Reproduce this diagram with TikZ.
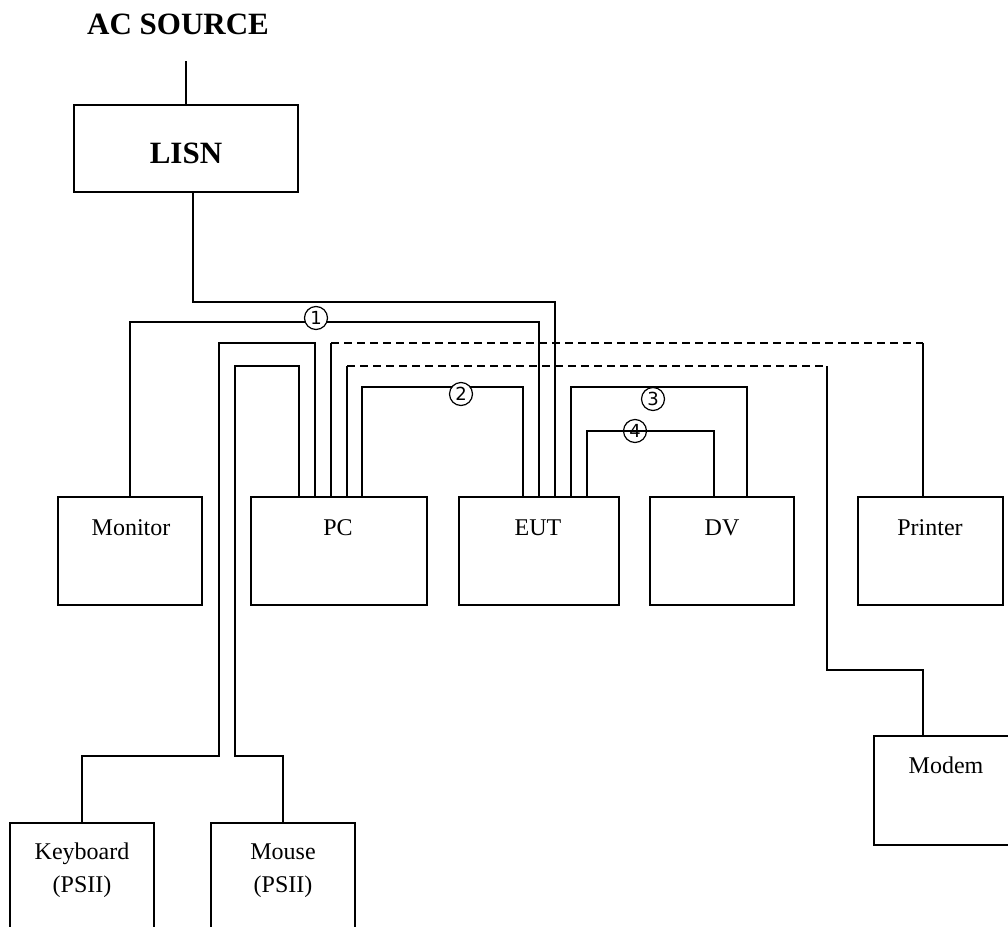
\documentclass[tikz,border=0pt]{standalone}
\usepackage{fontspec}
\setmainfont{Liberation Serif}
\newfontfamily\numfont{DejaVu Sans}
\usetikzlibrary{calc}
\begin{document}
\begin{tikzpicture}[x=1pt,y=-1pt,line width=1.8pt,
  box/.style={draw,line width=1.8pt,minimum width=#1,minimum height=108pt,inner sep=0pt},
  lbl/.style={anchor=base,inner sep=0pt,font=\fontsize{24}{33}\selectfont},
  big/.style={anchor=base,inner sep=0pt,font=\bfseries\fontsize{31}{36}\selectfont},
  num/.style={circle,draw,line width=1.2pt,minimum size=23pt,inner sep=0pt,font=\numfont\fontsize{18}{18}\selectfont},
  cable/.style={line width=1.8pt},
  dcable/.style={line width=1.8pt,dash pattern=on 8pt off 5pt}]
\useasboundingbox (0,0) rectangle (1008,926);
\clip (0,0) rectangle (1008,926);
\fill[white] (0,0) rectangle (1008,926);

% boxes
\node[box=224pt,minimum height=87pt] (lisn) at (186,148.5) {};
\node[box=144pt] (mon) at (130,551) {};
\node[box=176pt] (pc) at (339,551) {};
\node[box=160pt] (eut) at (539,551) {};
\node[box=144pt] (dv) at (722,551) {};
\node[box=145pt] (prn) at (930.5,551) {};
\node[box=144pt] (kb) at (82,877) {};
\node[box=144pt] (mouse) at (283,877) {};
\node[box=146pt,minimum height=109pt] (modem) at (947,790.5) {};

% texts
\node[big] (acT) at (178,34) {AC SOURCE};
\node[big] (lisnT) at (186,163) {LISN};
\node[lbl] (monT) at (131,535) {Monitor};
\node[lbl] (pcT) at (338,535) {PC};
\node[lbl] (eutT) at (538,535) {EUT};
\node[lbl] (dvT) at (722,535) {DV};
\node[lbl] (prnT) at (930,535) {Printer};
\node[lbl] (modemT) at (946,773) {Modem};
\node[lbl,align=center,anchor=base] (kbT) at (82,892) {Keyboard\\(PSII)};
\node[lbl,align=center,anchor=base] (mouseT) at (283,892) {Mouse\\(PSII)};

% AC source to LISN
\coordinate (ac) at (186,61);
\draw[cable] (ac) -- (ac |- lisn.north);

% LISN to EUT
\draw[cable] ([xshift=7pt]lisn.south) -- ++(0,109) -| ([xshift=16pt]eut.north);

% cable 1: Monitor - EUT
\draw[cable] (mon.north) -- ++(0,-174) -| (eut.north);

% keyboard
\draw[cable] ([xshift=-24pt]pc.north) -- ++(0,-153) -- ++(-96,0) -- ++(0,413) -| (kb.north);
% mouse
\draw[cable] ([xshift=-40pt]pc.north) -- ++(0,-130) -- ++(-64,0) -- ++(0,390) -| (mouse.north);

% printer (dashed)
\coordinate (pr) at ([xshift=-7.5pt]prn.north);
\draw[cable] ([xshift=-8pt]pc.north) -- ++(0,-153) coordinate (p1);
\draw[dcable] (p1) -- (p1 -| pr);
\draw[cable] (p1 -| pr) -- (pr);

% modem (dashed)
\coordinate (md) at ([xshift=-24pt]modem.north);
\coordinate (mdx) at (827,670);
\draw[cable] ([xshift=8pt]pc.north) -- ++(0,-130) coordinate (m1);
\draw[dcable] (m1) -- (m1 -| mdx);
\draw[cable] (m1 -| mdx) -- (mdx) -| (md);

% cable 2: PC - EUT
\draw[cable] ([xshift=23pt]pc.north) -- ++(0,-109) -| ([xshift=-16pt]eut.north);
% cable 3: EUT - DV
\draw[cable] ([xshift=32pt]eut.north) -- ++(0,-109) -| ([xshift=25pt]dv.north);
% cable 4: EUT - DV
\draw[cable] ([xshift=48pt]eut.north) -- ++(0,-65) -| ([xshift=-8pt]dv.north);

% circled numbers
\node[num,fill=white] (n1) at (316,318) {1};
\node[num,fill=white] (n2) at (461,394) {2};
\node[num,fill=white] (n3) at (653,399) {3};
\node[num] (n4) at (635,431) {4};
\end{tikzpicture}
\end{document}
